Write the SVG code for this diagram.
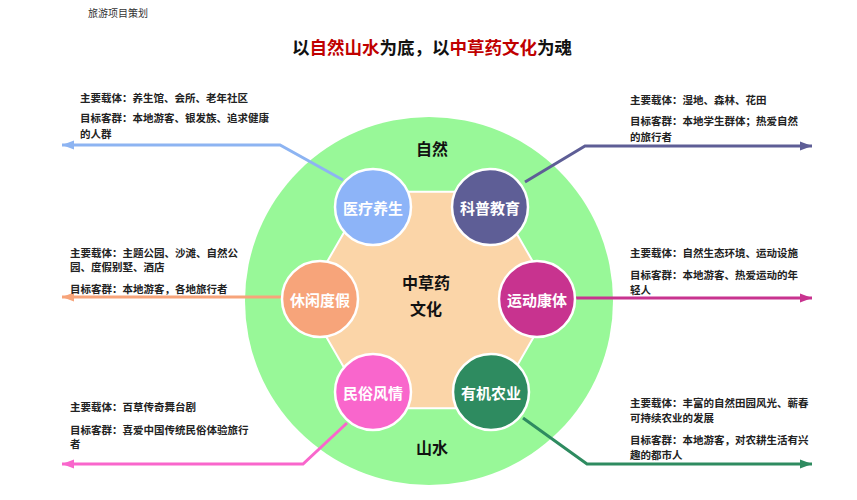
<svg xmlns="http://www.w3.org/2000/svg" width="857" height="500" viewBox="0 0 857 500">
<style>
text{font-family:"Noto Sans CJK SC","Noto Sans",sans-serif}
.hdr{font-size:10px;fill:#333}
.title{font-size:17.5px;font-weight:bold;fill:#111}
.red{fill:#C00000}
.lbl{font-size:16px;font-weight:bold;fill:#111}
.node{stroke:#fff;stroke-width:2.5}
.ntxt{font-size:15px;font-weight:bold;fill:#fff;text-anchor:middle;dominant-baseline:central}
.info{font-size:10.5px;font-weight:bold;fill:#222}
.conn{fill:none;stroke-width:3;stroke-linejoin:miter}
</style>
<defs>
<marker id="aBlue" markerUnits="userSpaceOnUse" markerWidth="13" markerHeight="10" refX="12" refY="5" orient="auto"><path d="M0,0.5 L12,5 L0,9.5 z" fill="#8DB4F2"/></marker>
<marker id="aPurple" markerUnits="userSpaceOnUse" markerWidth="13" markerHeight="10" refX="12" refY="5" orient="auto"><path d="M0,0.5 L12,5 L0,9.5 z" fill="#5E5E96"/></marker>
<marker id="aSalmon" markerUnits="userSpaceOnUse" markerWidth="13" markerHeight="10" refX="12" refY="5" orient="auto"><path d="M0,0.5 L12,5 L0,9.5 z" fill="#F7A47A"/></marker>
<marker id="aMagenta" markerUnits="userSpaceOnUse" markerWidth="13" markerHeight="10" refX="12" refY="5" orient="auto"><path d="M0,0.5 L12,5 L0,9.5 z" fill="#C8338F"/></marker>
<marker id="aPink" markerUnits="userSpaceOnUse" markerWidth="13" markerHeight="10" refX="12" refY="5" orient="auto"><path d="M0,0.5 L12,5 L0,9.5 z" fill="#F966CC"/></marker>
<marker id="aGreen" markerUnits="userSpaceOnUse" markerWidth="13" markerHeight="10" refX="12" refY="5" orient="auto"><path d="M0,0.5 L12,5 L0,9.5 z" fill="#2E8B60"/></marker>
</defs>
<rect width="857" height="500" fill="#fff"/>
<text class="hdr" x="88" y="17">旅游项目策划</text>
<text class="title" x="432" y="54" text-anchor="middle">以<tspan class="red">自然山水</tspan>为底，以<tspan class="red">中草药文化</tspan>为魂</text>

<g id="outer">
<circle cx="429" cy="301" r="184" fill="#98F898"/>
<text class="lbl" x="432" y="148" text-anchor="middle" dominant-baseline="central">自然</text>
<text class="lbl" x="432" y="447" text-anchor="middle" dominant-baseline="central">山水</text>
</g>
<g id="core">
<polygon points="555,300 492.5,408.3 367.5,408.3 305,300 367.5,191.7 492.5,191.7" fill="#FBD5A8" stroke="#fff" stroke-width="2"/>
<text class="lbl" x="426" y="282" text-anchor="middle" dominant-baseline="central">中草药</text>
<text class="lbl" x="426" y="308" text-anchor="middle" dominant-baseline="central">文化</text>
</g>

<g id="connectors">
<polyline class="conn" stroke="#8DB4F2" points="343,180 280,145 62,145" marker-end="url(#aBlue)"/>
<polyline class="conn" stroke="#5E5E96" points="525,182 585,146 812,146" marker-end="url(#aPurple)"/>
<polyline class="conn" stroke="#F7A47A" points="284,297 62,297" marker-end="url(#aSalmon)"/>
<polyline class="conn" stroke="#C8338F" points="574,298 812,298" marker-end="url(#aMagenta)"/>
<polyline class="conn" stroke="#F966CC" points="347,423 303,464 62,464" marker-end="url(#aPink)"/>
<polyline class="conn" stroke="#2E8B60" points="523,418 587,464 812,464" marker-end="url(#aGreen)"/>
</g>

<g id="n-yiliao"><circle class="node" cx="373" cy="207" r="38" fill="#8DB4F8"/><text class="ntxt" x="373" y="207">医疗养生</text></g>
<g id="n-kepu"><circle class="node" cx="490" cy="207" r="38" fill="#5E5E96"/><text class="ntxt" x="490" y="207">科普教育</text></g>
<g id="n-xiuxian"><circle class="node" cx="320" cy="299" r="38" fill="#F7A47A"/><text class="ntxt" x="320" y="299">休闲度假</text></g>
<g id="n-yundong"><circle class="node" cx="537" cy="299" r="38" fill="#C8338F"/><text class="ntxt" x="537" y="299">运动康体</text></g>
<g id="n-minsu"><circle class="node" cx="373" cy="392" r="38" fill="#F966CC"/><text class="ntxt" x="373" y="392">民俗风情</text></g>
<g id="n-youji"><circle class="node" cx="491" cy="392" r="38" fill="#2E8B60"/><text class="ntxt" x="491" y="392">有机农业</text></g>

<g id="info-yiliao">
<text class="info" x="80" y="102">主要载体：养生馆、会所、老年社区</text>
<text class="info" x="80" y="122">目标客群：本地游客、银发族、追求健康</text>
<text class="info" x="80" y="138">的人群</text>
</g>
<g id="info-kepu">
<text class="info" x="630" y="104">主要载体：湿地、森林、花田</text>
<text class="info" x="630" y="125">目标客群：本地学生群体；热爱自然</text>
<text class="info" x="630" y="141">的旅行者</text>
</g>
<g id="info-xiuxian">
<text class="info" x="70" y="257">主要载体：主题公园、沙滩、自然公</text>
<text class="info" x="70" y="271">园、度假别墅、酒店</text>
<text class="info" x="70" y="293">目标客群：本地游客，各地旅行者</text>
</g>
<g id="info-yundong">
<text class="info" x="630" y="257">主要载体：自然生态环境、运动设施</text>
<text class="info" x="630" y="279">目标客群：本地游客、热爱运动的年</text>
<text class="info" x="630" y="294">轻人</text>
</g>
<g id="info-minsu">
<text class="info" x="70" y="411">主要载体：百草传奇舞台剧</text>
<text class="info" x="70" y="434">目标客群：喜爱中国传统民俗体验旅行</text>
<text class="info" x="70" y="448">者</text>
</g>
<g id="info-youji">
<text class="info" x="630" y="407">主要载体：丰富的自然田园风光、蕲春</text>
<text class="info" x="630" y="422">可持续农业的发展</text>
<text class="info" x="630" y="444">目标客群：本地游客，对农耕生活有兴</text>
<text class="info" x="630" y="459">趣的都市人</text>
</g>
</svg>
